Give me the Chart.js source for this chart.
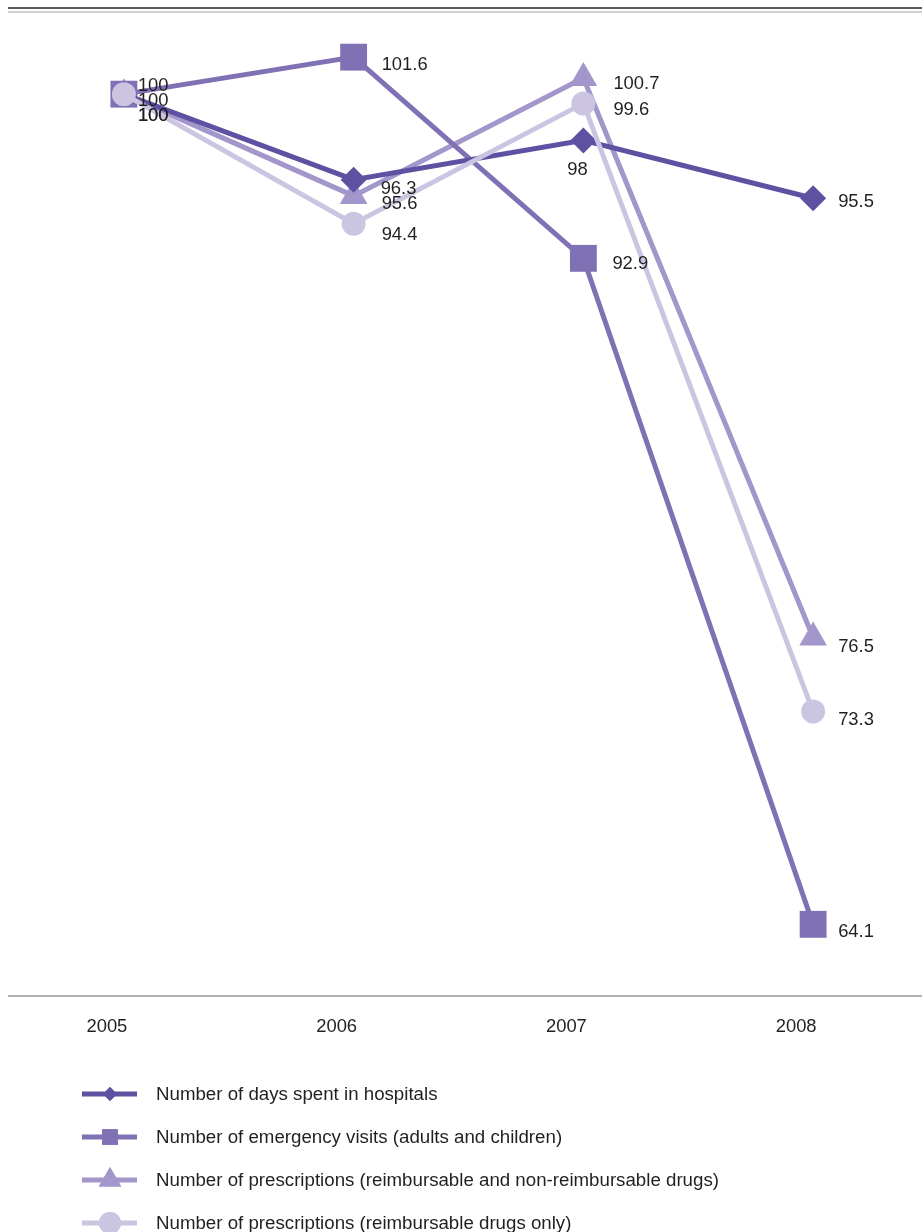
<!DOCTYPE html>
<html>
<head>
<meta charset="utf-8">
<title>Health services index</title>
<script src="https://cdn.jsdelivr.net/npm/chart.js@4.4.0/dist/chart.umd.min.js"></script>
<style>
  html, body { margin: 0; padding: 0; background: #fff; overflow: hidden; }
  #wrap { position: relative; width: 922px; height: 1232px; overflow: hidden; }
  .rule { position: absolute; left: 8px; width: 914px; }
  .rule.dark { top: 7px; height: 2px; background: #58585a; }
  .rule.light { top: 11px; height: 2px; background: #cfcfcf; }
  canvas { position: absolute; left: -10px; top: 0; }
</style>
</head>
<body>
<div id="wrap">
  <canvas id="indexChart" width="957" height="1232"></canvas>
  <div class="rule dark"></div>
  <div class="rule light"></div>
</div>
<script>
// ==========================================
// DATA
// ==========================================

const years = ["2005", "2006", "2007", "2008"];
const hospitalDays = [100, 96.3, 98, 95.5];
const emergencyVisits = [100, 101.6, 92.9, 64.1];
const prescriptionsAll = [100, 95.6, 100.7, 76.5];
const prescriptionsReimbursable = [100, 94.4, 99.6, 73.3];

const seriesNames = [
  "Number of days spent in hospitals",
  "Number of emergency visits (adults and children)",
  "Number of prescriptions (reimbursable and non-reimbursable drugs)",
  "Number of prescriptions (reimbursable drugs only)",
];

const FONT = "'Liberation Sans', Arial, Helvetica, sans-serif";
const TEXT_COLOR = "#231f20";
const SHIFT_X = 10; // canvas sits 10px left of the page edge

// label placement per dataset / point: [dx, dy, align]
const labelPlacement = [
  [[14, 22, "left"], [27, 9, "left"], [-6, 30, "center"], [25, 4, "left"]],
  [[14, -8, "left"], [28, 8, "left"], [29, 6, "left"], [25, 8, "left"]],
  [[14, 7, "left"], [28, 8, "left"], [30, 6, "left"], [25, 9, "left"]],
  [[14, 22, "left"], [28, 11, "left"], [30, 7, "left"], [25, 8, "left"]],
];

// ==========================================
// PLUGINS
// ==========================================

const valueLabels = {
  id: "valueLabels",
  afterDatasetsDraw(chart) {
    const ctx = chart.ctx;
    ctx.save();
    ctx.font = "18.4px " + FONT;
    ctx.fillStyle = TEXT_COLOR;
    ctx.textBaseline = "middle";
    chart.data.datasets.forEach((ds, i) => {
      const meta = chart.getDatasetMeta(i);
      meta.data.forEach((pt, j) => {
        const p = labelPlacement[i][j];
        ctx.textAlign = p[2];
        ctx.fillText(String(ds.data[j]), pt.x + p[0], pt.y + p[1]);
      });
    });
    ctx.restore();
  },
};

const sideLegend = {
  id: "sideLegend",
  afterDraw(chart) {
    const ctx = chart.ctx;
    const sizes = [7, 11, 13, 11];
    ctx.save();
    ctx.translate(SHIFT_X, 0);
    chart.data.datasets.forEach((ds, i) => {
      const y = 1094 + i * 43;
      ctx.strokeStyle = ds.borderColor;
      ctx.lineWidth = 5;
      ctx.beginPath();
      ctx.moveTo(82, y);
      ctx.lineTo(137, y);
      ctx.stroke();
      ctx.fillStyle = ds.borderColor;
      Chart.helpers.drawPoint(ctx, { pointStyle: ds.pointStyle, radius: sizes[i], borderWidth: 0 }, 110, y);
      ctx.fill();
      ctx.font = "18.7px " + FONT;
      ctx.fillStyle = TEXT_COLOR;
      ctx.textAlign = "left";
      ctx.textBaseline = "middle";
      ctx.fillText(seriesNames[i], 156, y + 1);
    });
    ctx.restore();
  },
};

// ==========================================
// CHART
// ==========================================

function makeSeries(label, data, color, style, radius, order) {
  return {
    label: label,
    data: data,
    borderColor: color,
    backgroundColor: color,
    borderWidth: 5,
    pointStyle: style,
    pointRadius: radius,
    pointHoverRadius: radius,
    pointBorderWidth: 0,
    pointBackgroundColor: color,
    tension: 0,
    clip: false,
    order: order,
  };
}

function initChart() {
  const ctx = document.getElementById("indexChart");

  new Chart(ctx.getContext("2d"), {
    type: "line",
    data: {
      labels: years,
      datasets: [
        makeSeries(seriesNames[0], hospitalDays, "#5f51a1", "rectRot", 13, 1),
        makeSeries(seriesNames[1], emergencyVisits, "#8071b4", "rect", 19, 2),
        makeSeries(seriesNames[2], prescriptionsAll, "#a296cb", "triangle", 16, 3),
        makeSeries(seriesNames[3], prescriptionsReimbursable, "#cbc5e2", "circle", 12, 0),
      ],
    },
    options: {
      responsive: false,
      animation: false,
      devicePixelRatio: 1,
      layout: { padding: { top: 0, bottom: 176, left: 0, right: 0 } },
      plugins: {
        legend: { display: false },
        tooltip: { enabled: false },
      },
      scales: {
        x: {
          offset: true,
          grid: { display: false, drawTicks: false },
          border: { display: true, color: "#b3b3b3", width: 2 },
          ticks: {
            padding: 20,
            labelOffset: -17,
            color: TEXT_COLOR,
            font: { family: FONT, size: 18.4 },
          },
          afterFit(scale) {
            scale.height = 60;
          },
        },
        y: {
          display: false,
          min: 61,
          max: 103.25,
        },
      },
    },
    plugins: [valueLabels, sideLegend],
  });
}

document.addEventListener("DOMContentLoaded", function () {
  initChart();
});
</script>
</body>
</html>
